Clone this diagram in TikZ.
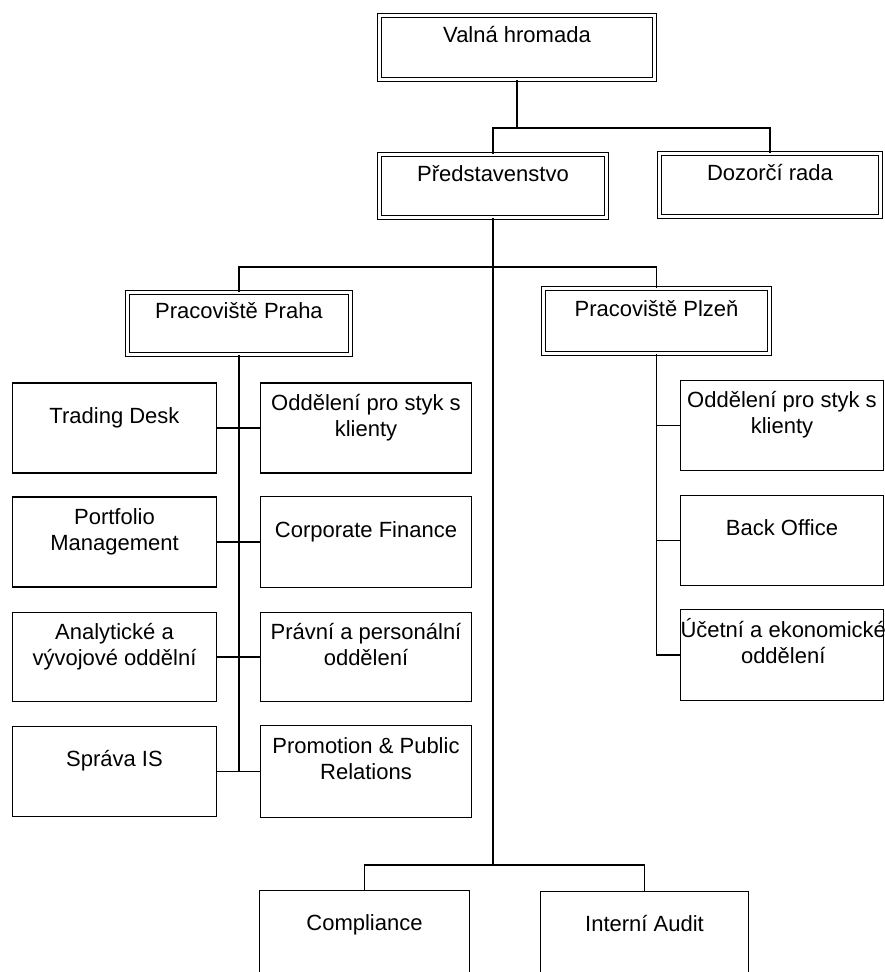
\documentclass[tikz,border=0pt]{standalone}
\usepackage{fontspec}
\setmainfont{Liberation Sans}
\newcommand{\orgtext}[3]{\parbox[c][#2pt][c]{#1pt}{\centering\begin{tabular}{@{}c@{}}#3\end{tabular}\par\vspace*{20pt}}}

\begin{document}
\begin{tikzpicture}[x=1pt, y=-1pt, line width=1.1pt, font=\fontsize{22}{26}\selectfont,
    unit/.style={draw, inner sep=0pt},
    dunit/.style={unit, double, double distance=2.4pt}]
    \useasboundingbox (0,0) rectangle (885,972);
    \clip (0,0) rectangle (885,972);

    \node[dunit] (vh) at (517,47.5) {\orgtext{275}{64}{Valná hromada}};
    \node[dunit] (pr) at (493,186) {\orgtext{227}{63}{Představenstvo}};
    \node[dunit] (dr) at (770,185) {\orgtext{221}{63}{Dozorčí rada}};
    \node[dunit] (pp) at (239,323.5) {\orgtext{223}{62}{Pracoviště Praha}};
    \node[dunit] (pz) at (656.5,321) {\orgtext{226}{65}{Pracoviště Plzeň}};

    \node[unit] (td) at (114.5,428) {\orgtext{204}{90}{Trading Desk}};
    \node[unit] (pm) at (114.5,542) {\orgtext{204}{90}{Portfolio\\Management}};
    \node[unit] (av) at (114.5,657) {\orgtext{204}{89}{Analytické a\\vývojové oddělní}};
    \node[unit] (sis) at (114.5,771.5) {\orgtext{204}{90}{Správa IS}};
    \node[unit] (os) at (366,428) {\orgtext{211}{90}{Oddělení pro styk s\\klienty}};
    \node[unit] (cf) at (366,542) {\orgtext{211}{91}{Corporate Finance}};
    \node[unit] (pa) at (366,657) {\orgtext{211}{89}{Právní a personální\\oddělení}};
    \node[unit] (prr) at (366,771.5) {\orgtext{211}{92}{Promotion \& Public\\Relations}};

    \node[unit] (oz) at (782,425.5) {\orgtext{203}{90}{Oddělení pro styk s\\klienty}};
    \node[unit] (bo) at (782,540.5) {\orgtext{203}{90}{Back Office}};
    \node[unit] (ue) at (782,655) {\orgtext{203}{91}{Účetní a ekonomické\\oddělení}};

    \node[unit] (co) at (364.5,935.5) {\orgtext{210}{90}{Compliance}};
    \node[unit] (ia) at (644.5,936.5) {\orgtext{208}{90}{Interní Audit}};

    \coordinate (bus1) at (517,128);
    \coordinate (bus2) at (493,267);
    \coordinate (bus3) at (493,865);

    \draw (vh.south) -- (bus1);
    \draw (pr.north) |- (bus1) -| (dr.north);
    \draw (pr.south) -- (bus3);
    \draw (pp.north) |- (bus2) -| (pz.north);
    \draw (co.north) |- (bus3) -| (ia.north);

    \draw (pp.south) -- (pp.south |- sis.east);
    \draw (td.east) -- (os.west);
    \draw (pm.east) -- (cf.west);
    \draw (av.east) -- (pa.west);
    \draw (sis.east) -- (prr.west);

    \draw (pz.south) |- (ue.west);
    \draw (pz.south |- oz.west) -- (oz.west);
    \draw (pz.south |- bo.west) -- (bo.west);
\end{tikzpicture}
\end{document}
